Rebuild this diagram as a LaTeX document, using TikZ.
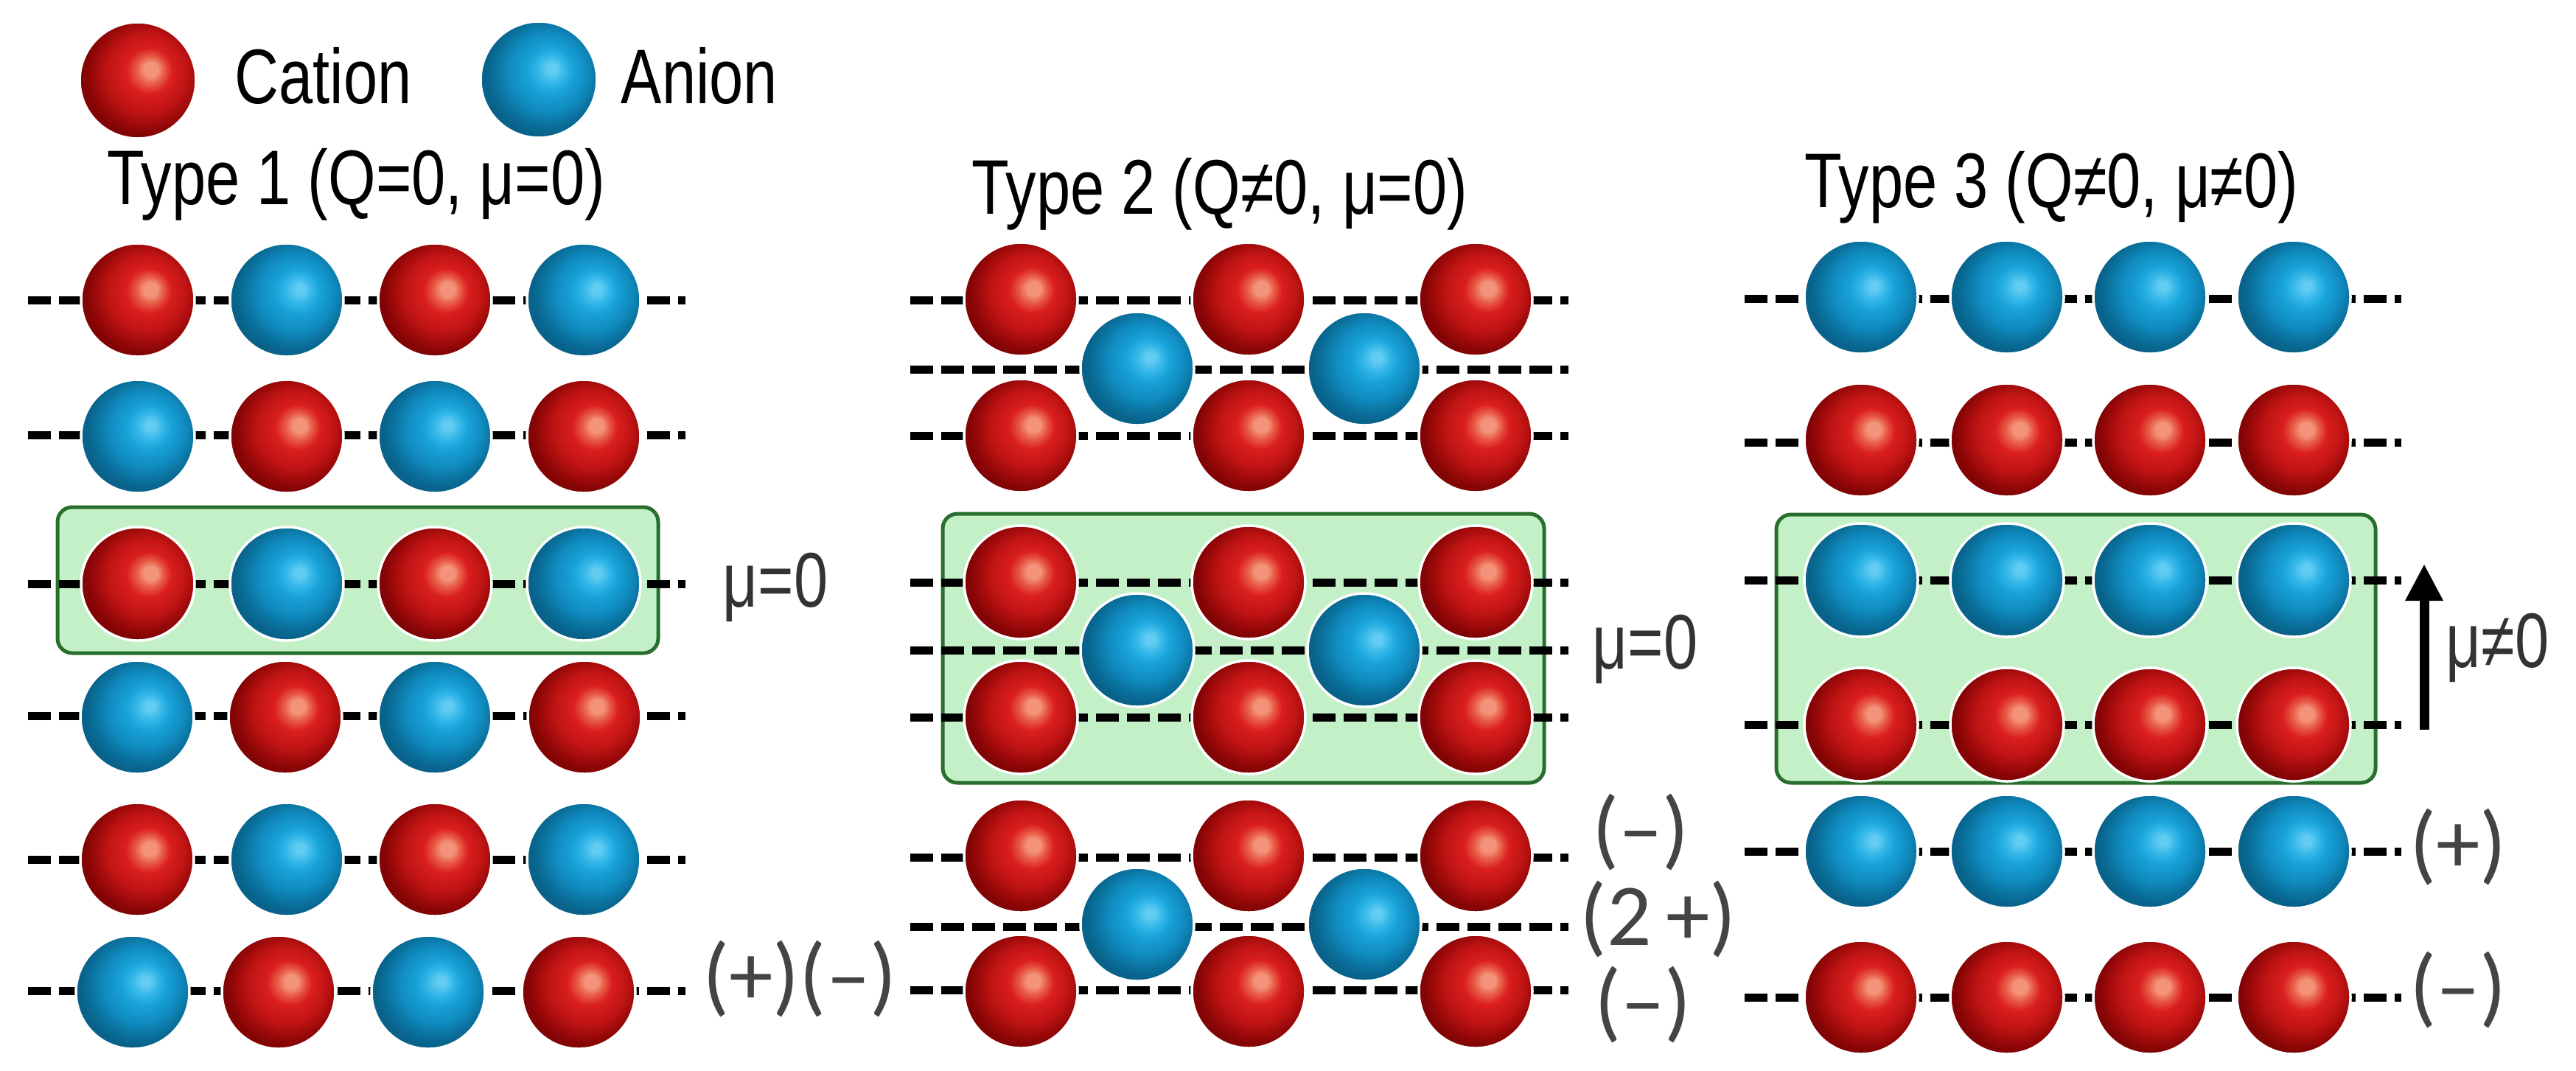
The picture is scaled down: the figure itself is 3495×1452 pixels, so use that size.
\documentclass[tikz,border=0pt]{standalone}
\usepackage{fontspec}
\setmainfont{Liberation Sans}
\newfontfamily\condf{Liberation Sans}[FakeStretch=0.79]
\newfontfamily\chgf{Carlito}
\usetikzlibrary{arrows.meta}
\definecolor{rhl}{RGB}{243,148,122}
\definecolor{rhl2}{RGB}{232,90,70}
\definecolor{rmain}{RGB}{218,30,30}
\definecolor{rmid}{RGB}{192,20,20}
\definecolor{rdark}{RGB}{158,10,10}
\definecolor{redge}{RGB}{130,4,4}
\definecolor{bhl}{RGB}{98,204,242}
\definecolor{bhl2}{RGB}{50,182,232}
\definecolor{bmain}{RGB}{24,162,216}
\definecolor{bmid}{RGB}{16,138,190}
\definecolor{bdark}{RGB}{10,114,158}
\definecolor{bedge}{RGB}{8,98,138}
\definecolor{boxfill}{RGB}{196,240,200}
\definecolor{boxline}{RGB}{40,110,44}
\definecolor{txtgrey}{RGB}{51,51,51}
\definecolor{chggrey}{RGB}{68,68,68}
\pgfdeclareradialshading{redball}{\pgfpoint{6bp}{5bp}}{color(0bp)=(rhl); color(3bp)=(rhl); color(6bp)=(rhl2); color(10bp)=(rmain); color(17bp)=(rmid); color(22bp)=(rdark); color(26bp)=(redge); color(50bp)=(redge)}
\pgfdeclareradialshading{blueball}{\pgfpoint{6bp}{5bp}}{color(0bp)=(bhl); color(2bp)=(bhl); color(6bp)=(bhl2); color(10bp)=(bmain); color(17bp)=(bmid); color(22bp)=(bdark); color(26bp)=(bedge); color(50bp)=(bedge)}
\tikzset{
  cat/.style={circle, inner sep=0pt, minimum size=15.4mm, shade, shading=redball, draw=white, line width=0.35mm},
  ani/.style={circle, inner sep=0pt, minimum size=15.4mm, shade, shading=blueball, draw=white, line width=0.35mm},
  lattice/.style={line width=1.1mm, dash pattern=on 3.1mm off 1.1mm, black},
  gbox/.style={fill=boxfill, draw=boxline, line width=0.5mm, rounded corners=2mm},
  ttl/.style={inner sep=0pt, anchor=base west, font=\condf\fontsize{29.9pt}{34pt}\selectfont, text=black},
  mulbl/.style={inner sep=0pt, anchor=base west, font=\condf\fontsize{29.9pt}{34pt}\selectfont, text=txtgrey},
  chg/.style={inner sep=0pt, anchor=center, font=\chgf\fontsize{34pt}{38pt}\selectfont, text=chggrey},
  dipole/.style={line width=1.3mm, -{Triangle[width=4.8mm,length=5mm]}}
}
\begin{document}
\begin{tikzpicture}[x=0.1mm, y=-0.1mm]
\useasboundingbox (0,0) rectangle (3495,1452);
% legend
\node[cat, minimum size=15.8mm] (legcat) at (187,109) {};
\node[ani, minimum size=15.8mm] (legani) at (731,108) {};
\node[ttl] (legcatt) at (318,140) {Cation};
\node[ttl] (leganit) at (842,140) {Anion};
% titles
\node[ttl] (title1) at (145,277) {Type 1 (Q=0, μ=0)};
\node[ttl] (title2) at (1318,290) {Type 2 (Q≠0, μ=0)};
\node[ttl] (title3) at (2448,281) {Type 3 (Q≠0, μ≠0)};
% green boxes
\draw[gbox] (78,688) rectangle (893,886);
\draw[gbox] (1279,697) rectangle (2095,1062);
\draw[gbox] (2410,698) rectangle (3223,1062);
% lattice lines type 1
\foreach \y [count=\i] in {407,590,792,971,1166,1344} {
  \coordinate (t1a\i) at (38,\y);
  \coordinate (t1b\i) at (930,\y);
  \draw[lattice] (t1a\i) -- (t1b\i);
}
% type 2
\foreach \y [count=\i] in {407,501,591,790,882,973,1163,1257,1343} {
  \coordinate (t2a\i) at (1235,\y);
  \coordinate (t2b\i) at (2128,\y);
  \draw[lattice] (t2a\i) -- (t2b\i);
}
% type 3
\foreach \y [count=\i] in {405,600,787,983,1155,1353} {
  \coordinate (t3a\i) at (2367,\y);
  \coordinate (t3b\i) at (3258,\y);
  \draw[lattice] (t3a\i) -- (t3b\i);
}
% balls type 1
\foreach \x/\k [count=\j] in {187/cat,389/ani,590/cat,792/ani} \node[\k] (t1n1\j) at (\x,407) {};
\foreach \x/\k [count=\j] in {187/ani,389/cat,590/ani,792/cat} \node[\k] (t1n2\j) at (\x,592) {};
\foreach \x/\k [count=\j] in {187/cat,389/ani,590/cat,792/ani} \node[\k] (t1n3\j) at (\x,792) {};
\foreach \x/\k [count=\j] in {186/ani,387/cat,590/ani,793/cat} \node[\k] (t1n4\j) at (\x,973) {};
\foreach \x/\k [count=\j] in {186/cat,389/ani,590/cat,792/ani} \node[\k] (t1n5\j) at (\x,1166) {};
\foreach \x/\k [count=\j] in {180/ani,378/cat,581/ani,785/cat} \node[\k] (t1n6\j) at (\x,1346) {};
% balls type 2
\foreach \yt/\ym/\yb [count=\b] in {406/500/591, 790/882/973, 1161/1254/1345} {
  \foreach \x [count=\j] in {1385,1694,2002} {
    \node[cat] (t2t\b\j) at (\x,\yt) {};
    \node[cat] (t2b\b\j) at (\x,\yb) {};
  }
  \foreach \x [count=\j] in {1543,1851} \node[ani] (t2m\b\j) at (\x,\ym) {};
}
% balls type 3
\foreach \y/\k [count=\i] in {403/ani,597/cat,787/ani,983/cat,1155/ani,1353/cat} {
  \foreach \x [count=\j] in {2525,2723,2917,3112} \node[\k] (t3n\i\j) at (\x,\y) {};
}
% labels
\node[mulbl] (mu1) at (980,823) {μ=0};
\node[mulbl] (mu2) at (2160,907) {μ=0};
\node[mulbl] (mu3) at (3318,905) {μ≠0};
\coordinate (arrS) at (3289,990);
\coordinate (arrE) at (3289,765);
\draw[dipole] (arrS) -- (arrE);
\node[chg] (c1) at (1085,1328) {(+)(–)};
\node[chg] (c2a) at (2226,1129) {(–)};
\node[chg] (c2b) at (2250,1247) {(2\,+)};
\node[chg] (c2c) at (2229,1363) {(–)};
\node[chg] (c3a) at (3335,1149) {(+)};
\node[chg] (c3b) at (3335,1343) {(–)};
\end{tikzpicture}
\end{document}
